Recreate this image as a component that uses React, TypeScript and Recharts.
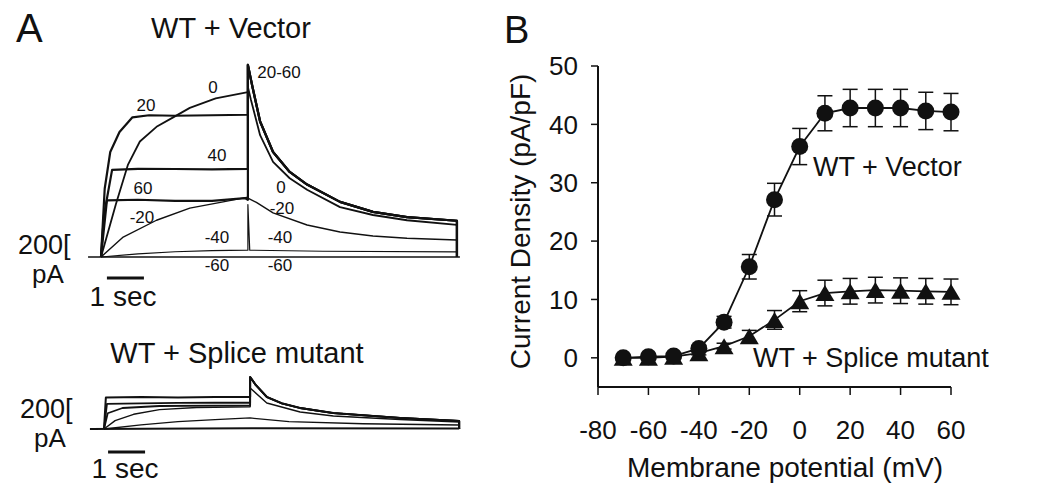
import { ErrorBar, Line, LineChart, ReferenceLine, XAxis, YAxis } from 'recharts';

const FONT = '"Liberation Sans", Arial, Helvetica, sans-serif';
const INK = '#111';

// ---- panel B: current density vs membrane potential ----
const voltages = [-70, -60, -50, -40, -30, -20, -10, 0, 10, 20, 30, 40, 50, 60];
const vectorMean = [0, 0.2, 0.3, 1.6, 6.1, 15.6, 27.1, 36.2, 41.9, 42.8, 42.8, 42.8, 42.3, 42.1];
const vectorSem = [0.3, 0.3, 0.3, 0.5, 1.0, 2.1, 2.8, 3.1, 3.0, 3.2, 3.2, 3.2, 3.2, 3.2];
const spliceMean = [0, 0, 0.2, 0.8, 2.0, 3.7, 6.5, 9.7, 11.1, 11.4, 11.6, 11.5, 11.4, 11.3];
const spliceSem = [0.2, 0.2, 0.2, 0.3, 0.5, 1.0, 1.6, 1.8, 2.2, 2.2, 2.2, 2.2, 2.2, 2.2];
const xTicks = [-80, -60, -40, -20, 0, 20, 40, 60];
const yTicks = [0, 10, 20, 30, 40, 50];

const ivData = voltages.map((v, i) => ({
  v,
  vec: vectorMean[i],
  vecErr: vectorSem[i],
  spl: spliceMean[i],
  splErr: spliceSem[i],
}));

// ---- panel A: current traces, [time (s), current (pA)] ----
const tailHigh: number[][] = [
  [3.97, 1830], [4.1, 1610], [4.3, 1290], [4.65, 1000], [5.1, 810], [5.57, 690],
  [6.46, 525], [7.35, 430], [8.27, 380], [9.62, 345], [9.62, 0],
];
const vec20 = [[0, 0], [0.1, 650], [0.25, 1000], [0.5, 1190], [0.85, 1330], [1.3, 1350], [2, 1345], [3, 1350], [3.97, 1355]];
const vec40 = [[0, 0], [0.08, 400], [0.3, 830], [1, 840], [2, 838], [3, 835], [3.97, 840]];
const vec60 = [[0, 0], [0.16, 540], [1, 545], [2, 535], [3, 535], [3.9, 560], [3.97, 545]];
const vec0 = [
  [0, 0], [0.4, 500], [0.73, 880], [1.05, 1100], [1.5, 1240], [1.95, 1330], [2.4, 1420], [3.1, 1510], [3.97, 1570],
  [3.97, 1620], [4.05, 1500], [4.3, 1160], [4.65, 905], [5.1, 750], [5.57, 640], [6.46, 475], [7.35, 400], [8.27, 350], [9.62, 305], [9.62, 0],
];
const vecM20 = [
  [0, 0], [0.6, 190], [1.5, 350], [2.4, 465], [3.3, 525], [3.97, 570],
  [3.97, 560], [4.2, 520], [4.65, 420], [5.57, 305], [6.46, 238], [7.35, 200], [8.27, 178], [9.62, 162], [9.62, 0],
];
const vecM40 = [[0, 0], [1, 30], [2, 50], [3, 60], [3.97, 65], [3.97, 500], [4.02, 65], [6, 55], [9.62, 48], [9.62, 0]];
const vecM60 = [[-0.35, 0], [9.7, 0]];

const tailMutant: number[][] = [
  [3.95, 495], [4.1, 420], [4.4, 305], [4.8, 245], [5.3, 200], [6.2, 152], [8, 105], [9.6, 76], [9.6, 0],
];
const mut1 = [[0, 0], [0.05, 300], [1, 305], [2, 300], [3, 305], [3.95, 305]];
const mut2 = [[0, 0], [0.08, 240], [1, 245], [2, 248], [3, 250], [3.95, 250]];
const mut3 = [[0, 0], [0.1, 150], [0.5, 200], [1.5, 219], [3, 222], [3.95, 225]];
const mut4 = [
  [0, 0], [0.3, 80], [0.8, 140], [1.5, 185], [2.5, 205], [3.95, 212],
  [3.95, 390], [4.4, 248], [5.3, 162], [6.2, 124], [8, 90], [9.6, 67], [9.6, 0],
];
const mut5 = [[0, 0], [1, 40], [2, 70], [3, 90], [3.95, 105], [5, 70], [7, 50], [9.6, 38], [9.6, 0]];
const mut6 = [[-0.38, 0], [4, 8], [9.6, 5], [9.6, 0]];

type Trace = { pts: number[][]; w: number };

const vectorTraces: Trace[] = [
  { pts: vecM60, w: 1.6 },
  { pts: vecM40, w: 1.2 },
  { pts: vecM20, w: 1.4 },
  { pts: vec0, w: 1.8 },
  { pts: [...vec60, ...tailHigh], w: 2.2 },
  { pts: [...vec40, ...tailHigh], w: 2.2 },
  { pts: [...vec20, ...tailHigh], w: 2.2 },
];

const mutantTraces: Trace[] = [
  { pts: mut6, w: 2 },
  { pts: mut5, w: 1.3 },
  { pts: mut4, w: 1.4 },
  { pts: [...mut3, ...tailMutant], w: 1.8 },
  { pts: [...mut2, ...tailMutant], w: 1.8 },
  { pts: [...mut1, ...tailMutant], w: 2 },
];

// 37 px per second, 21 px per 200 pA, pulse onset at x=101 / baseline at y=257 in a 480x300 box
const T_DOMAIN: [number, number] = [-101 / 37, 379 / 37];
const I_DOMAIN: [number, number] = [-43 / 0.105, 257 / 0.105];

function TraceChart({ traces, bar }: { traces: Trace[]; bar: { t0: number; t1: number; y: number } }) {
  return (
    <LineChart width={480} height={300} margin={{ top: 0, right: 0, bottom: 0, left: 0 }}>
      <XAxis dataKey="t" type="number" domain={T_DOMAIN} hide allowDataOverflow />
      <YAxis type="number" domain={I_DOMAIN} hide allowDataOverflow />
      {traces.map((tr, k) => (
        <Line
          key={k}
          data={tr.pts.map(([t, i]) => ({ t, i }))}
          dataKey="i"
          type="linear"
          dot={false}
          activeDot={false}
          stroke={INK}
          strokeWidth={tr.w}
          strokeLinejoin="round"
          isAnimationActive={false}
        />
      ))}
      <ReferenceLine
        segment={[{ x: bar.t0, y: bar.y }, { x: bar.t1, y: bar.y }]}
        stroke={INK}
        strokeWidth={3}
      />
    </LineChart>
  );
}

function Triangle(props: any) {
  const { cx, cy, index } = props;
  if (cx == null || cy == null) return null;
  const w = 19;
  const h = 16;
  return (
    <polygon
      key={`tri-${index}`}
      points={`${cx - w / 2},${cy + h / 2} ${cx + w / 2},${cy + h / 2} ${cx},${cy - h / 2}`}
      fill={INK}
    />
  );
}

const labelsA: [string, number, number][] = [
  ['0', 213, 87],
  ['20', 146, 105],
  ['40', 217, 155],
  ['60', 143, 188],
  ['-20', 142, 217],
  ['-40', 217, 237],
  ['-60', 217, 265],
  ['20-60', 279, 72],
  ['0', 281, 187],
  ['-20', 282, 208],
  ['-40', 280, 237],
  ['-60', 280, 265],
];

function ScaleText({ x, y }: { x: number; y: number }) {
  // "200[" over "pA"
  return (
    <>
      <text x={x} y={y} fontSize={27}>200[</text>
      <text x={x + 14} y={y + 29} fontSize={26}>pA</text>
    </>
  );
}

export default function App() {
  return (
    <div style={{ position: 'absolute', left: 0, top: 0, width: 1050, height: 497, background: '#fff', fontFamily: FONT }}>
      <div style={{ position: 'absolute', left: 0, top: 0 }}>
        <TraceChart traces={vectorTraces} bar={{ t0: 0.16, t1: 1.16, y: -200 }} />
      </div>
      <div style={{ position: 'absolute', left: 3, top: 172 }}>
        <TraceChart traces={mutantTraces} bar={{ t0: 0.11, t1: 1.11, y: -219 }} />
      </div>

      <div style={{ position: 'absolute', left: 480, top: 0 }}>
        <LineChart width={570} height={497} data={ivData} margin={{ top: 66, right: 99, bottom: 0, left: 0 }}>
          <XAxis
            dataKey="v"
            type="number"
            domain={[-80, 60]}
            ticks={xTicks}
            height={110}
            tickSize={8}
            tickMargin={26}
            axisLine={{ stroke: INK, strokeWidth: 2 }}
            tickLine={{ stroke: INK, strokeWidth: 1.5 }}
            tick={{ fontSize: 26, fill: INK, fontFamily: FONT }}
            label={(p: any) => (
              <text
                x={p.viewBox.x + 187}
                y={p.viewBox.y + 80}
                textAnchor="middle"
                dominantBaseline="central"
                fontSize={28}
                fill={INK}
                fontFamily={FONT}
              >
                Membrane potential (mV)
              </text>
            )}
          />
          <YAxis
            type="number"
            domain={[-5, 50]}
            ticks={yTicks}
            width={118}
            tickSize={7}
            tickMargin={13}
            axisLine={{ stroke: INK, strokeWidth: 2 }}
            tickLine={{ stroke: INK, strokeWidth: 1.5 }}
            tick={{ fontSize: 26, fill: INK, fontFamily: FONT }}
            label={(p: any) => {
              const x = p.viewBox.x + 40;
              const y = p.viewBox.y + p.viewBox.height / 2 - 5;
              return (
                <text
                  x={x}
                  y={y}
                  transform={`rotate(-90 ${x} ${y})`}
                  textAnchor="middle"
                  dominantBaseline="central"
                  fontSize={28}
                  fill={INK}
                  fontFamily={FONT}
                >
                  Current Density (pA/pF)
                </text>
              );
            }}
          />
          <Line
            dataKey="spl"
            type="linear"
            stroke={INK}
            strokeWidth={1.8}
            dot={Triangle}
            activeDot={false}
            isAnimationActive={false}
          >
            <ErrorBar dataKey="splErr" width={7.5} stroke={INK} strokeWidth={1.5} direction="y" isAnimationActive={false} />
          </Line>
          <Line
            dataKey="vec"
            type="linear"
            stroke={INK}
            strokeWidth={1.8}
            dot={{ r: 8.5, fill: INK, stroke: INK, strokeWidth: 0 }}
            activeDot={false}
            isAnimationActive={false}
          >
            <ErrorBar dataKey="vecErr" width={7.5} stroke={INK} strokeWidth={1.5} direction="y" isAnimationActive={false} />
          </Line>
        </LineChart>
      </div>

      <svg
        width={1050}
        height={497}
        style={{ position: 'absolute', left: 0, top: 0, pointerEvents: 'none' }}
        fontFamily={FONT}
        fill={INK}
      >
        <text x={16} y={28} fontSize={40} dominantBaseline="central">A</text>
        <text x={504} y={30} fontSize={38} dominantBaseline="central">B</text>
        <text x={231} y={28} fontSize={29} textAnchor="middle" dominantBaseline="central">WT + Vector</text>
        <text x={237} y={353} fontSize={29} textAnchor="middle" dominantBaseline="central">WT + Splice mutant</text>
        {labelsA.map(([s, x, y], k) => (
          <text key={k} x={x} y={y} fontSize={17} textAnchor="middle" dominantBaseline="central">{s}</text>
        ))}
        <ScaleText x={18} y={254} />
        <text x={123} y={296} fontSize={28} textAnchor="middle" dominantBaseline="central">1 sec</text>
        <ScaleText x={20} y={418} />
        <text x={125} y={468} fontSize={28} textAnchor="middle" dominantBaseline="central">1 sec</text>
        <text x={813} y={167} fontSize={27} dominantBaseline="central">WT + Vector</text>
        <text x={753} y={358} fontSize={27} dominantBaseline="central">WT + Splice mutant</text>
      </svg>
    </div>
  );
}
